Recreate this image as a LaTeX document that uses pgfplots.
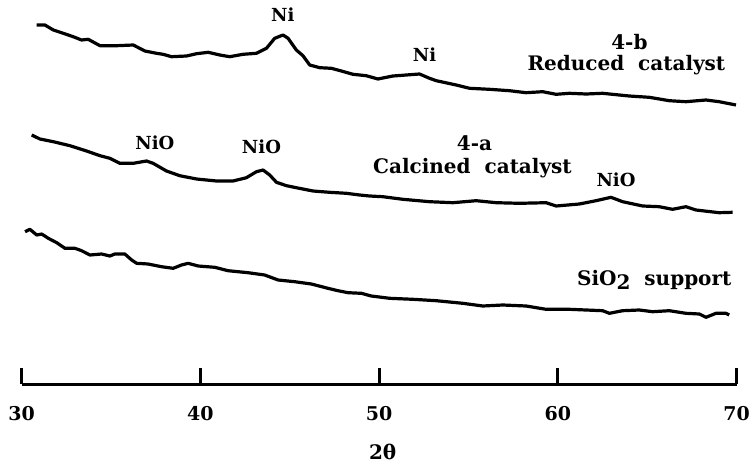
\documentclass[border=0pt]{standalone}
\usepackage{fontspec}
\setmainfont{DejaVu Serif}
\usepackage{pgfplots}
\pgfplotsset{compat=1.18}

% XRD patterns, intensity in arbitrary units (height above the axis line)
\pgfplotstableread{
x y
30.85 359
31.31 359
31.78 354
32.34 350.7
32.89 347.3
33.36 344
33.73 344.7
34.39 338.3
35.32 338.3
36.25 339
36.90 333
37.55 330.7
37.92 329.7
38.39 327.3
39.23 328
39.79 330.3
40.44 331.7
41.09 329
41.65 327.3
42.39 329.7
43.14 330.7
43.70 335.7
44.16 345.7
44.63 349
44.91 345.7
45.37 334
45.74 328.3
46.12 319
46.68 316.3
47.33 315.7
47.89 313
48.54 309.7
49.28 308.3
49.93 305
50.77 308
51.52 309
52.26 310
52.82 305.7
53.20 303.3
54.31 299
55.06 295.7
56.17 294.7
57.29 293.3
58.22 291.3
59.15 292.3
59.90 289.7
60.64 290.7
61.58 290
62.50 290.7
62.88 290
63.99 288
65.11 286.7
66.23 283.3
67.16 282.3
68.28 284
69.02 282.3
69.96 279
}\reduced

\pgfplotstableread{
x y
30.57 249
31.03 245
31.78 242.3
32.71 238.3
33.64 233
34.39 228.3
34.94 225.7
35.50 220.7
36.25 220.7
36.99 223
37.36 220.7
38.11 213
38.85 208.3
39.79 205
40.91 203
41.83 203
42.58 206.3
43.14 212.3
43.51 214
43.88 209
44.26 201.7
44.82 198.3
45.37 196.3
46.30 193
47.23 191.7
48.17 190.7
48.91 189
49.47 188
50.21 187.3
51.33 184.7
52.82 182.3
54.12 181.3
55.43 183.3
56.55 181.3
57.85 180.7
59.34 181.3
59.90 178
61.20 180
62.13 183.3
62.97 186.7
63.62 182.3
64.74 178
65.67 177.3
66.41 174.7
67.16 177.3
67.72 174
69.02 171.3
69.77 171.7
}\calcined

\pgfplotstableread{
x y
30.20 152.3
30.47 154.7
30.85 149
31.13 150
31.50 145.7
31.97 141.3
32.43 135.7
32.99 135.7
33.36 133.3
33.83 129
34.48 130
34.94 128
35.22 130
35.78 130
36.16 124
36.44 120.7
37.08 120
37.83 117.3
38.48 115.7
38.95 119
39.32 120.7
39.88 118
40.81 116.7
41.55 113.3
42.67 111.3
43.60 109
44.35 104
45.28 102.3
46.21 100
47.14 95.7
47.70 93.3
48.26 91.3
49.01 90.7
49.56 88
50.59 85.7
51.89 84.7
53.20 83.3
54.68 80.7
55.80 78
56.92 79
58.22 78
59.34 74.7
60.64 74.7
61.58 74
62.50 73.3
62.88 70.7
63.62 73.3
64.55 74
65.30 72.3
66.23 73.3
67.16 70.7
67.91 70
68.28 66.7
68.84 70.7
69.40 70.7
69.58 69
}\support

\begin{document}
\begin{tikzpicture}
\begin{axis}[
  scale only axis,
  width=357.6pt, height=192pt,
  xmin=30, xmax=70, ymin=0, ymax=384,
  axis x line*=bottom, axis y line=none,
  axis line style={line width=1.5pt},
  xtick={30,40,50,60,70},
  tick align=inside,
  major tick length=8pt,
  tick style={line width=1.5pt, black},
  /pgf/number format/assume math mode=true,
  xticklabel style={font=\fontsize{9.5}{11}\selectfont\bfseries, anchor=base, yshift=-18pt},
  clip=false,
]
\addplot[black, line width=1.6pt, line join=round] table {\reduced};
\addplot[black, line width=1.6pt, line join=round] table {\calcined};
\addplot[black, line width=1.6pt, line join=round] table {\support};

\begin{scope}[every node/.style={font=\fontsize{9}{11}\selectfont\bfseries, inner sep=0pt}]
\node at (axis cs:44.61,369) {Ni};
\node at (axis cs:52.54,329) {Ni};
\node at (axis cs:37.46,241) {NiO};
\node at (axis cs:43.42,237) {NiO};
\node at (axis cs:63.25,204.7) {NiO};
\end{scope}
\begin{scope}[every node/.style={font=\fontsize{10}{12}\selectfont\bfseries, inner sep=0pt}]
\node at (axis cs:64.0,342) {4-b};
\node at (axis cs:63.83,319) {Reduced\ \ catalyst};
\node at (axis cs:55.34,240.7) {4-a};
\node at (axis cs:55.22,215.7) {Calcined\ \ catalyst};
\node at (axis cs:65.39,104) {SiO\raisebox{-0.35ex}{2}\ \ support};
\node at (axis cs:50.2,-68) {2θ};
\end{scope}
\end{axis}
\pgfresetboundingbox
\path[use as bounding box] (-10.75pt,-44pt) rectangle (363.75pt,192pt);
\end{tikzpicture}
\end{document}
